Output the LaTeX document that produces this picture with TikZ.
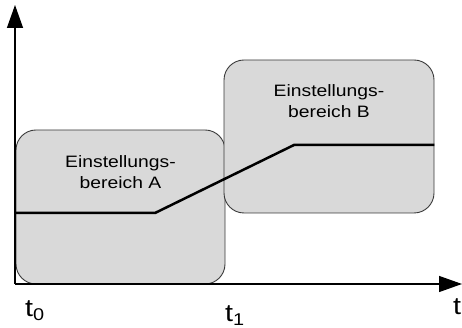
\documentclass[tikz,border=0pt]{standalone}
\usepackage{fontspec}
\setmainfont[FakeStretch=1.17]{Liberation Sans}
\usetikzlibrary{arrows.meta,positioning}
\definecolor{RangeFill}{HTML}{D9D9D9}
\definecolor{RangeEdge}{HTML}{3A3A3A}

% time mark with a lowered index
\newcommand{\tmark}[1]{t\raisebox{-3.5pt}{\fontsize{17}{17}\selectfont #1}}

\begin{document}
\begin{tikzpicture}[x=1pt, y=1pt,
  rangebox/.style={rounded corners=20pt, draw=RangeEdge, fill=RangeFill,
               line width=0.9pt, inner sep=0pt},
  rangelabel/.style={align=center, inner sep=0pt,
               font=\fontsize{16.5}{21}\selectfont},
  axis/.style={line width=1.3pt, -{Triangle[length=23pt, width=16pt]}},
  timelabel/.style={anchor=base west, inner sep=0pt,
               font=\fontsize{24.5}{24.5}\selectfont},
  profile/.style={line width=2.5pt}
]
\useasboundingbox (-15,-44) rectangle (447,284);

% the two setting ranges
\node[rangebox, minimum width=209pt, minimum height=154pt] (rangeA) at (105.5,77) {};
\node[rangebox, minimum width=210pt, minimum height=153pt] (rangeB) at (314,147.5) {};
\node[rangelabel, below=26pt of rangeA.north] (labelA) {Einstellungs-\\bereich A};
\node[rangelabel, below=25pt of rangeB.north] (labelB) {Einstellungs-\\bereich B};

% axes
\coordinate (origin) at (0,0);
\coordinate (ytip) at (0,279);
\coordinate (xtip) at (447,0);
\draw[axis] (origin) -- (ytip);
\draw[axis] (origin) -- (xtip);

% setpoint profile
\coordinate (p0) at (0,71);
\coordinate (p1) at (140,71);
\coordinate (p2) at (279,139);
\coordinate (p3) at (rangeB.east |- p2);
\draw[profile] (p0) -- (p1) -- (p2) -- (p3);

% time marks
\node[timelabel] (t0) at (10,-33) {\tmark{0}};
\node[timelabel] (t1) at (210,-38) {\tmark{1}};
\node[timelabel] (tt) at (438,-31) {t};
\end{tikzpicture}
\end{document}
